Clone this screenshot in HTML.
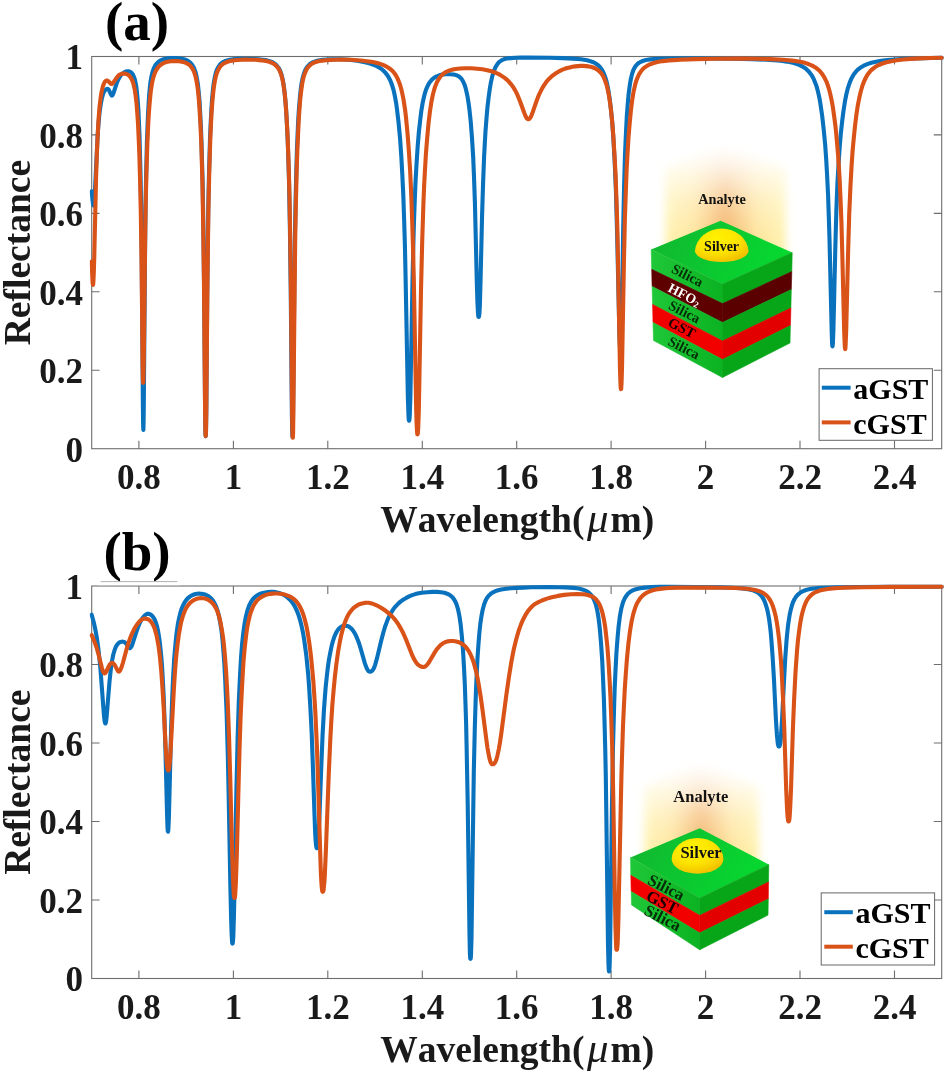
<!DOCTYPE html>
<html><head><meta charset="utf-8"><title>Reflectance spectra</title>
<style>
html,body{margin:0;padding:0;background:#fff;}
body{width:944px;height:1072px;overflow:hidden;}
svg{display:block;}
text{font-family:"Liberation Serif","DejaVu Serif",serif;font-weight:bold;fill:#1a1a1a;font-kerning:none;}
.tk{font-size:35px;}
.ax{font-size:37.5px;}
.pl{font-size:55px;fill:#000;}
.lg{font-size:30px;fill:#000;}
.axis{stroke:#6e6e6e;stroke-width:1.1;fill:none;}
.cv{fill:none;stroke-width:4.1;stroke-linejoin:round;stroke-linecap:round;}
</style></head><body>
<svg width="944" height="1072" viewBox="0 0 944 1072">
<defs>
<clipPath id="clipA"><rect x="89.5" y="50" width="860" height="400"/></clipPath>
<clipPath id="clipB"><rect x="89.5" y="580" width="860" height="400"/></clipPath>
<filter id="blur4" x="-50%" y="-50%" width="200%" height="200%"><feGaussianBlur stdDeviation="4.5"/></filter>
</defs>
<rect width="944" height="1072" fill="#fff"/>

<!-- ================= PANEL A ================= -->
<g id="panelA">
<rect class="axis" x="91.7" y="56.5" width="850.0" height="392.2"/>
<path class="axis" d="M138.9 448.7v-7.9M138.9 56.5v7.9M233.4 448.7v-7.9M233.4 56.5v7.9M327.8 448.7v-7.9M327.8 56.5v7.9M422.3 448.7v-7.9M422.3 56.5v7.9M516.7 448.7v-7.9M516.7 56.5v7.9M611.1 448.7v-7.9M611.1 56.5v7.9M705.6 448.7v-7.9M705.6 56.5v7.9M800.0 448.7v-7.9M800.0 56.5v7.9M894.5 448.7v-7.9M894.5 56.5v7.9M91.7 370.3h7.9M941.7 370.3h-7.9M91.7 291.8h7.9M941.7 291.8h-7.9M91.7 213.4h7.9M941.7 213.4h-7.9M91.7 134.9h7.9M941.7 134.9h-7.9"/>
<text class="tk" x="138.9" y="489" text-anchor="middle">0.8</text>
<text class="tk" x="233.4" y="489" text-anchor="middle">1</text>
<text class="tk" x="327.8" y="489" text-anchor="middle">1.2</text>
<text class="tk" x="422.3" y="489" text-anchor="middle">1.4</text>
<text class="tk" x="516.7" y="489" text-anchor="middle">1.6</text>
<text class="tk" x="611.1" y="489" text-anchor="middle">1.8</text>
<text class="tk" x="705.6" y="489" text-anchor="middle">2</text>
<text class="tk" x="800.0" y="489" text-anchor="middle">2.2</text>
<text class="tk" x="894.5" y="489" text-anchor="middle">2.4</text>
<text class="tk" x="83" y="461.5" text-anchor="end">0</text>
<text class="tk" x="83" y="383.1" text-anchor="end">0.2</text>
<text class="tk" x="83" y="304.6" text-anchor="end">0.4</text>
<text class="tk" x="83" y="226.2" text-anchor="end">0.6</text>
<text class="tk" x="83" y="147.7" text-anchor="end">0.8</text>
<text class="tk" x="83" y="69.3" text-anchor="end">1</text>
<text class="ax" transform="translate(30.3 252.6) rotate(-90)" text-anchor="middle">Reflectance</text>
<text class="ax" x="517.3" y="532.3" text-anchor="middle">Wavelength(<tspan font-style="italic" font-weight="normal" font-size="43" dx="2.5">μ</tspan><tspan dx="2">m)</tspan></text>
<text class="pl" x="137" y="40.3" text-anchor="middle">(a)</text>
<defs><linearGradient id="ghA" x1="665" x2="786" y1="0" y2="0" gradientUnits="userSpaceOnUse"><stop offset="0" stop-color="#fff4b2"/><stop offset="0.25" stop-color="#fee49c"/><stop offset="0.5" stop-color="#f4b266"/><stop offset="0.75" stop-color="#fee49c"/><stop offset="1" stop-color="#fff4b2"/></linearGradient><linearGradient id="gvA" x1="0" x2="0" y1="146" y2="262" gradientUnits="userSpaceOnUse"><stop offset="0" stop-color="#fff" stop-opacity="1"/><stop offset="0.15" stop-color="#fff" stop-opacity="0.85"/><stop offset="0.5" stop-color="#fff" stop-opacity="0.3"/><stop offset="0.8" stop-color="#fff" stop-opacity="0"/></linearGradient><radialGradient id="dmA" cx="0.4" cy="0.3" r="0.75"><stop offset="0" stop-color="#fff200"/><stop offset="0.55" stop-color="#fde400"/><stop offset="1" stop-color="#f0bd00"/></radialGradient><linearGradient id="tfA" x1="651.2" x2="792.2" y1="220.7" y2="284.0" gradientUnits="userSpaceOnUse"><stop offset="0" stop-color="#12b630"/><stop offset="1" stop-color="#04dd30"/></linearGradient><linearGradient id="lfA" x1="651.2" x2="722.5" y1="0" y2="0" gradientUnits="userSpaceOnUse"><stop offset="0" stop-color="#1fc838"/><stop offset="1" stop-color="#0bb222"/></linearGradient></defs>
<g filter="url(#blur4)"><polygon points="665,168 721.6,146 786,168 786,262 665,262" fill="url(#ghA)"/><rect x="645" y="126" width="161" height="136" fill="url(#gvA)"/></g>
<polygon points="720.6,220.7 792.2,252.6 722.5,284.0 651.2,249.5" fill="url(#tfA)"/>
<polygon points="651.2,249.5 722.5,284.0 722.5,303.6 651.7,269.3" fill="url(#lfA)" stroke="url(#lfA)" stroke-width="0.6" stroke-linejoin="round"/>
<polygon points="722.5,284.0 792.2,252.6 791.8,271.6 722.5,303.6" fill="#07a618" stroke="#07a618" stroke-width="0.6" stroke-linejoin="round"/>
<polygon points="651.7,269.3 722.5,303.6 722.5,322.4 652.1,286.4" fill="#5e0000" stroke="#5e0000" stroke-width="0.6" stroke-linejoin="round"/>
<polygon points="722.5,303.6 791.8,271.6 791.3,289.6 722.5,322.4" fill="#5a0000" stroke="#5a0000" stroke-width="0.6" stroke-linejoin="round"/>
<polygon points="652.1,286.4 722.5,322.4 722.5,341 652.6,304.4" fill="url(#lfA)" stroke="url(#lfA)" stroke-width="0.6" stroke-linejoin="round"/>
<polygon points="722.5,322.4 791.3,289.6 790.9,307.9 722.5,341" fill="#07a618" stroke="#07a618" stroke-width="0.6" stroke-linejoin="round"/>
<polygon points="652.6,304.4 722.5,341 722.5,359.5 653.0,322.5" fill="#f20000" stroke="#f20000" stroke-width="0.6" stroke-linejoin="round"/>
<polygon points="722.5,341 790.9,307.9 790.4,325.6 722.5,359.5" fill="#e20000" stroke="#e20000" stroke-width="0.6" stroke-linejoin="round"/>
<polygon points="653.0,322.5 722.5,359.5 722.5,377.5 653.5,340.5" fill="url(#lfA)" stroke="url(#lfA)" stroke-width="0.6" stroke-linejoin="round"/>
<polygon points="722.5,359.5 790.4,325.6 790.0,343 722.5,377.5" fill="#07a618" stroke="#07a618" stroke-width="0.6" stroke-linejoin="round"/>
<path d="M694.9 251.3A26.9 24.3 0 0 1 748.6 251.3A26.9 11.4 0 0 1 694.9 251.3Z" fill="url(#dmA)"/>
<text x="721.6" y="251.4" font-size="14" text-anchor="middle" style="fill:#111">Silver</text>
<text x="722" y="204" font-size="14.3" text-anchor="middle" style="fill:#111">Analyte</text>
<text transform="translate(670.5 272.0) rotate(27)" font-size="14.3" style="fill:#062b06">Silica</text>
<text transform="translate(667 291) rotate(27)" font-size="13.8" style="fill:#fff">HFO<tspan font-size="9" dy="2">2</tspan></text>
<text transform="translate(667.5 308.5) rotate(27)" font-size="14.3" style="fill:#062b06">Silica</text>
<text transform="translate(667 325.5) rotate(27)" font-size="14.3" style="fill:#1a0000">GST</text>
<text transform="translate(667 344.5) rotate(27)" font-size="14.3" style="fill:#062b06">Silica</text>
<g clip-path="url(#clipA)">
<polyline class="cv" stroke="#0a72bd" points="91.7,191.4 92.4,199.1 93.0,204.1 93.3,205.1 93.6,205.5 93.8,205.3 94.1,203.7 94.4,199.5 94.9,191.6 97.3,142.3 97.9,131.6 98.7,121.6 99.6,112.1 100.8,103.9 102.0,97.8 102.7,95.4 103.4,93.2 104.3,91.4 105.2,90.1 106.6,89.0 107.1,88.8 107.6,88.9 108.3,89.3 109.1,90.3 109.7,91.7 110.9,94.4 111.3,95.2 111.8,95.6 112.2,95.5 112.8,94.7 113.4,93.3 116.8,83.0 118.0,80.2 119.1,78.0 120.5,75.8 122.1,73.9 123.9,72.5 125.7,71.6 127.4,71.3 129.0,71.4 130.4,71.9 131.1,72.4 131.7,73.0 132.9,74.5 133.8,76.5 134.7,78.9 135.4,81.9 136.3,86.7 137.0,92.8 137.7,100.1 138.4,110.1 138.9,121.4 139.5,135.8 140.4,169.4 141.1,204.5 141.6,240.5 142.0,291.1 142.9,406.8 143.1,422.5 143.2,427.1 143.3,429.4 143.4,429.9 143.5,426.2 143.6,421.1 143.8,404.4 145.1,246.6 145.5,208.5 146.1,175.9 146.9,142.0 148.0,114.4 148.6,103.8 149.1,95.5 149.8,88.1 150.5,81.8 151.4,76.7 152.3,72.6 153.5,69.1 154.1,67.6 154.9,66.1 155.6,64.9 156.5,63.8 157.4,62.8 158.5,61.9 159.6,61.0 160.8,60.3 162.2,59.7 163.6,59.2 165.6,58.7 167.9,58.3 170.2,58.1 173.1,58.0 176.1,58.1 179.0,58.3 181.6,58.7 183.9,59.3 185.6,59.8 187.2,60.5 188.6,61.3 189.9,62.3 191.1,63.4 192.1,64.7 193.0,66.2 193.9,67.8 194.6,69.6 195.4,71.8 196.1,74.3 196.7,77.3 197.8,83.6 198.7,91.7 199.6,102.1 200.3,114.5 201.1,130.8 201.7,149.3 202.7,185.3 203.4,228.8 204.1,286.6 205.1,409.9 205.4,430.2 205.5,433.7 205.7,436.1 205.9,434.0 206.0,430.7 206.3,410.9 207.2,298.2 207.8,243.9 208.3,205.5 209.0,173.6 210.0,138.7 210.7,122.6 211.4,109.9 212.0,99.9 212.8,91.3 213.6,84.0 214.6,78.3 215.6,73.7 216.7,70.2 218.1,67.3 219.6,65.1 220.4,64.1 221.4,63.2 222.4,62.5 223.5,61.8 226.1,60.7 229.2,59.9 232.0,59.5 235.4,59.1 239.5,58.9 244.3,58.9 249.6,58.9 254.4,59.0 258.9,59.3 262.6,59.7 265.3,60.1 267.6,60.6 269.7,61.2 271.6,61.9 273.2,62.7 274.7,63.7 276.1,64.8 277.3,66.1 278.4,67.6 279.5,69.4 280.3,71.3 281.2,73.6 281.9,76.2 282.7,79.4 283.9,86.5 285.0,96.2 286.0,107.7 286.8,121.6 287.7,140.0 288.3,158.2 289.0,181.2 289.9,228.1 290.7,286.8 291.9,415.6 292.2,432.1 292.3,434.9 292.5,436.9 292.6,436.7 292.7,435.4 292.9,429.0 293.1,409.7 294.2,298.1 294.8,242.1 295.5,203.1 296.4,168.1 296.9,150.5 297.6,133.8 298.2,120.3 299.0,108.0 299.9,97.5 300.7,89.6 301.6,83.1 302.8,77.5 304.0,73.2 304.8,71.2 305.5,69.6 306.4,68.1 307.2,66.8 308.3,65.6 309.3,64.6 310.4,63.7 311.8,62.8 313.2,62.1 314.7,61.6 316.4,61.0 318.3,60.6 322.8,59.9 326.5,59.6 330.8,59.4 336.0,59.3 340.6,59.3 344.7,59.5 348.9,59.8 353.0,60.2 357.2,60.7 361.1,61.4 364.8,62.2 368.3,63.1 371.4,64.0 374.3,65.1 376.8,66.2 379.1,67.5 381.2,68.8 383.2,70.5 385.1,72.4 386.8,74.5 388.3,76.7 389.8,79.4 391.0,82.2 392.1,85.3 393.3,89.1 394.3,93.3 395.2,97.9 396.1,102.8 396.9,108.5 398.5,122.0 400.1,138.8 401.3,156.2 402.3,174.5 403.3,195.2 404.1,218.8 404.9,245.1 405.6,277.9 407.9,398.5 408.5,415.5 408.7,419.4 408.9,420.5 409.1,420.7 409.3,420.3 409.5,418.9 409.8,414.4 410.4,396.3 412.5,280.2 413.2,250.9 413.9,223.8 414.7,202.0 415.5,182.3 416.5,164.6 417.6,147.4 418.9,131.5 420.5,117.4 421.2,111.7 422.1,106.2 422.9,101.6 423.9,97.2 424.8,93.6 425.8,90.3 427.0,87.4 428.2,84.8 429.5,82.6 431.0,80.7 432.6,79.0 434.4,77.6 436.8,76.3 439.3,75.3 442.2,74.6 445.3,74.2 449.7,74.2 453.3,74.5 456.0,75.1 457.2,75.5 458.2,76.0 459.8,77.2 461.3,78.6 462.5,80.4 463.6,82.5 464.7,85.1 465.7,88.4 466.6,92.2 467.5,96.4 468.3,101.4 469.2,107.5 469.9,113.9 470.7,121.4 472.0,138.1 473.2,157.5 474.0,176.9 474.9,202.1 476.8,281.8 477.4,301.4 478.0,313.2 478.3,315.9 478.4,316.7 478.6,316.9 478.8,316.9 479.0,316.4 479.3,314.5 479.6,310.5 479.9,304.3 480.5,282.2 482.1,214.7 483.0,185.6 484.1,156.6 484.8,143.5 485.5,131.1 486.5,118.3 487.4,107.8 488.6,97.6 489.7,89.4 490.9,82.4 492.3,76.1 493.8,71.2 495.4,67.4 496.5,65.5 497.6,63.8 498.8,62.4 500.1,61.3 501.5,60.3 503.0,59.6 504.7,59.0 506.6,58.5 510.7,58.1 516.0,57.7 520.3,57.6 527.0,57.6 549.8,57.8 562.9,58.1 573.3,58.6 581.0,59.3 584.2,59.8 587.1,60.3 589.5,60.9 591.8,61.7 593.9,62.5 595.7,63.5 597.3,64.6 598.8,65.9 600.2,67.4 601.4,69.0 602.5,70.8 603.6,72.9 604.5,75.2 605.4,77.6 606.2,80.4 607.0,83.4 608.4,90.4 609.8,99.7 611.0,110.0 612.2,122.1 613.2,135.8 614.6,160.4 615.9,190.6 617.1,233.5 619.3,329.6 619.6,340.5 619.9,346.0 620.3,349.8 620.5,350.5 620.7,350.6 620.9,350.4 621.0,349.8 621.2,347.4 621.6,331.8 623.2,228.4 624.1,186.3 625.0,154.2 626.1,129.8 626.8,116.5 627.7,104.6 628.6,94.3 629.7,85.9 630.8,79.2 632.0,74.1 632.7,72.0 633.4,70.0 634.3,68.2 635.1,66.8 636.3,65.2 637.6,63.9 639.1,62.7 640.8,61.8 642.7,61.0 645.0,60.3 647.5,59.8 650.4,59.4 657.8,58.9 668.3,58.5 684.3,58.4 707.9,58.5 732.5,58.7 751.8,59.1 766.4,59.7 777.7,60.5 782.5,61.0 786.7,61.6 790.5,62.3 793.9,63.1 796.9,64.1 799.7,65.1 802.1,66.3 804.4,67.7 806.4,69.2 808.2,70.9 809.9,72.9 811.5,75.0 812.9,77.4 814.1,79.9 815.3,82.9 816.5,86.1 817.5,89.7 818.5,93.9 819.5,98.5 820.4,103.7 822.1,115.3 823.7,129.4 825.1,143.9 826.2,159.3 827.2,177.0 828.1,195.5 828.8,216.3 829.5,239.0 831.7,331.7 832.1,343.5 832.3,345.7 832.5,346.3 832.7,345.3 832.9,342.7 833.4,330.2 835.3,248.3 836.3,212.1 837.4,183.7 838.8,160.0 839.8,145.7 840.9,132.8 842.2,121.1 843.5,110.7 844.9,101.7 846.3,94.5 847.9,88.1 849.7,82.6 851.4,78.6 853.3,75.2 854.3,73.7 855.5,72.2 857.8,69.7 859.2,68.6 860.6,67.5 863.7,65.7 867.3,64.1 871.3,62.8 876.0,61.7 881.3,60.8 887.5,60.1 894.8,59.5 903.4,58.9 913.6,58.5 941.7,57.7"/>
<polyline class="cv" stroke="#d95319" points="91.7,261.5 92.2,274.7 92.6,282.8 92.8,284.3 93.0,284.8 93.2,283.8 93.4,281.4 93.8,272.4 94.2,259.3 96.1,176.5 96.8,155.6 97.5,139.1 98.4,121.5 99.4,108.1 100.6,98.1 101.2,93.8 102.0,90.0 102.8,86.6 103.7,84.2 104.7,82.0 105.0,81.6 105.6,81.0 106.1,80.7 106.5,80.6 107.0,80.5 107.6,80.7 108.6,81.5 110.7,83.7 111.3,84.0 111.9,83.9 112.6,83.5 113.3,82.6 116.2,78.3 117.7,76.4 118.5,75.5 119.5,74.8 120.4,74.3 121.4,73.9 123.0,73.6 124.7,73.6 126.3,74.0 127.8,74.7 129.1,75.7 130.2,76.9 131.3,78.5 132.2,80.4 132.9,82.1 133.5,84.3 134.7,89.3 135.6,95.4 136.5,102.9 137.2,111.9 138.0,123.6 138.6,136.5 139.3,152.8 140.1,181.0 140.8,212.4 141.5,258.2 142.6,362.4 142.9,377.8 143.1,382.2 143.2,382.8 143.3,382.7 143.5,376.3 143.8,359.4 144.8,270.6 145.3,226.7 145.9,194.7 146.5,171.1 147.4,142.5 148.0,129.5 148.6,117.1 149.3,107.2 150.0,99.2 150.7,92.0 151.5,86.5 152.3,81.7 153.4,77.3 154.6,73.6 155.9,70.6 157.5,68.1 159.3,66.0 160.4,65.1 161.5,64.3 163.9,62.9 165.6,62.3 167.3,61.8 169.2,61.4 171.1,61.2 173.9,61.1 176.6,61.1 179.2,61.3 181.6,61.7 183.4,62.1 185.1,62.6 186.6,63.2 187.9,64.0 189.2,64.8 190.3,65.8 191.2,66.9 192.2,68.2 193.1,69.9 194.0,71.7 194.7,73.8 195.5,76.3 196.7,82.0 197.9,89.7 198.9,100.0 199.7,111.9 200.5,125.8 201.3,143.9 201.8,160.9 202.4,182.0 203.2,226.0 204.0,287.2 205.1,412.9 205.4,430.9 205.5,434.0 205.7,436.1 205.9,434.3 206.0,431.4 206.3,413.8 207.3,298.0 207.9,246.7 208.4,209.7 209.2,174.8 210.3,139.2 210.9,126.0 211.5,113.5 212.3,102.4 213.1,93.9 213.9,86.7 214.9,80.8 215.8,76.5 216.9,72.8 218.3,69.7 219.8,67.1 220.6,66.1 221.6,65.1 222.6,64.2 223.6,63.5 226.1,62.3 229.1,61.3 231.7,60.7 234.6,60.3 238.0,60.0 241.8,59.8 246.2,59.6 250.8,59.7 255.3,59.8 259.2,60.1 264.8,60.7 267.2,61.2 269.3,61.8 271.1,62.5 272.7,63.2 274.3,64.1 275.6,65.2 276.9,66.5 278.1,68.1 279.3,70.0 280.2,72.1 281.1,74.3 281.9,77.2 282.7,80.4 283.3,83.8 284.6,92.5 285.6,103.1 286.5,116.4 287.5,134.3 288.2,153.0 288.9,173.6 289.5,195.9 290.0,224.7 290.9,287.6 292.1,413.2 292.4,430.9 292.6,436.5 292.7,437.5 292.8,437.7 293.0,435.6 293.1,432.8 293.4,409.5 294.6,292.2 295.2,239.6 295.9,202.6 296.7,168.9 297.4,149.3 298.1,133.4 298.8,118.8 299.6,107.3 300.4,97.4 301.3,89.9 302.3,83.1 303.4,77.8 304.7,73.7 306.1,70.4 306.9,68.8 307.8,67.6 308.7,66.4 309.8,65.4 310.9,64.4 312.1,63.6 313.5,62.9 314.9,62.3 318.3,61.3 322.4,60.6 326.0,60.2 330.2,59.9 335.2,59.7 340.4,59.6 350.7,59.8 360.8,60.5 369.1,61.5 372.8,62.1 376.1,62.8 379.0,63.6 381.7,64.4 384.2,65.4 386.4,66.5 388.7,67.9 390.9,69.5 392.8,71.3 394.6,73.5 396.2,75.9 397.6,78.6 398.9,81.7 400.2,85.2 401.3,89.2 402.3,93.6 403.4,98.8 404.3,104.6 405.2,110.6 406.0,117.6 407.6,134.1 408.9,151.5 410.2,171.8 411.2,193.5 412.1,218.5 413.0,247.2 413.8,279.1 416.2,409.8 416.6,423.0 416.9,429.6 417.2,433.2 417.3,434.2 417.5,434.4 417.7,434.0 417.9,432.6 418.2,428.3 418.8,410.9 421.0,289.8 422.2,241.5 423.4,204.0 424.1,186.3 424.9,171.3 425.9,154.2 427.2,137.8 428.5,123.6 429.9,111.7 431.4,101.9 433.0,94.0 433.9,90.7 434.8,87.6 435.9,84.7 436.9,82.3 438.4,79.5 440.1,77.0 441.9,75.0 444.0,73.3 446.3,71.8 449.0,70.6 451.9,69.7 455.3,69.0 459.9,68.5 465.3,68.2 471.3,68.3 477.1,68.7 482.4,69.3 487.2,70.2 491.6,71.3 495.5,72.7 498.1,73.8 500.5,75.1 502.8,76.6 505.0,78.1 507.1,79.9 509.0,81.8 510.7,83.8 512.4,86.0 513.9,88.2 515.3,90.6 516.6,93.1 517.9,96.0 520.2,101.7 524.2,112.8 525.6,116.2 526.3,117.6 527.1,118.6 527.8,119.1 528.5,119.2 529.2,119.0 529.9,118.2 530.7,117.1 531.5,115.3 532.9,111.7 536.2,102.0 537.9,97.4 539.9,92.8 541.9,88.8 544.1,85.1 546.5,81.7 549.2,78.7 552.0,76.1 553.9,74.6 555.9,73.2 558.0,71.9 560.1,70.8 562.4,69.7 564.8,68.8 567.2,68.0 569.7,67.4 572.4,66.8 575.2,66.4 578.0,66.1 580.7,65.9 583.5,65.9 586.0,66.1 588.4,66.4 590.6,66.8 593.1,67.5 595.4,68.5 597.4,69.7 599.1,71.1 600.8,72.8 602.3,74.8 603.6,77.1 604.8,79.8 605.9,83.0 607.0,86.5 607.9,90.5 608.9,95.3 609.7,100.5 610.5,106.0 612.0,119.8 613.3,135.7 614.5,154.8 615.6,175.7 616.5,200.6 617.3,226.6 617.9,255.5 620.0,369.7 620.5,384.5 620.7,387.5 620.8,388.4 621.0,389.1 621.1,389.0 621.2,388.8 621.2,388.2 621.5,383.9 622.0,368.5 623.9,263.4 624.9,218.3 626.1,183.8 626.7,168.5 627.5,153.9 628.5,137.4 629.7,123.0 630.9,110.5 632.1,100.7 633.5,92.1 635.0,85.2 635.9,82.2 636.8,79.4 637.8,77.0 638.8,74.8 639.8,73.1 640.8,71.6 641.9,70.1 643.2,68.8 644.5,67.6 645.9,66.6 647.4,65.6 649.1,64.7 650.9,64.0 652.9,63.3 657.3,62.1 662.7,61.1 669.3,60.4 680.7,59.6 695.6,59.1 715.1,58.7 737.2,58.6 755.5,58.8 770.6,59.1 782.5,59.7 792.1,60.6 797.2,61.3 801.6,62.1 805.6,63.1 809.1,64.3 812.2,65.6 815.0,67.2 817.5,69.0 819.8,71.1 821.8,73.5 823.6,76.1 825.3,79.3 826.9,82.7 828.3,86.7 829.6,91.3 830.8,96.4 832.0,102.1 833.1,108.7 834.2,116.6 835.3,124.9 836.3,134.6 837.2,144.7 838.1,155.3 838.8,166.1 839.6,178.9 840.5,198.7 841.4,221.6 842.3,254.3 844.2,331.8 844.7,344.3 845.0,348.2 845.2,349.1 845.4,348.5 845.6,345.1 846.2,330.1 848.1,252.3 849.2,214.6 850.4,187.1 851.6,165.3 852.6,150.9 853.8,137.9 855.0,126.1 856.3,115.4 857.7,106.0 859.2,98.3 860.7,91.7 862.4,85.8 864.1,81.3 865.9,77.5 867.8,74.2 870.1,71.4 871.3,70.1 872.7,68.9 875.5,66.8 878.7,65.0 882.4,63.5 886.5,62.2 891.3,61.2 896.7,60.3 903.2,59.5 910.6,58.9 919.3,58.4 929.6,58.0 941.7,57.7"/>
</g>
<rect x="819.1" y="368.7" width="113.3" height="71.6" fill="#fff" stroke="#666" stroke-width="1"/>
<path d="M821.8 387.7H850.6" stroke="#0a72bd" stroke-width="4"/>
<path d="M821.8 422.4H850.6" stroke="#d95319" stroke-width="4"/>
<text class="lg" x="853.3" y="398.8">aGST</text>
<text class="lg" x="853.3" y="434.0">cGST</text>
</g>

<!-- ================= PANEL B ================= -->
<g id="panelB">
<rect class="axis" x="91.7" y="586.0" width="850.0" height="392.5"/>
<path class="axis" d="M138.9 978.5v-7.9M138.9 586.0v7.9M233.4 978.5v-7.9M233.4 586.0v7.9M327.8 978.5v-7.9M327.8 586.0v7.9M422.3 978.5v-7.9M422.3 586.0v7.9M516.7 978.5v-7.9M516.7 586.0v7.9M611.1 978.5v-7.9M611.1 586.0v7.9M705.6 978.5v-7.9M705.6 586.0v7.9M800.0 978.5v-7.9M800.0 586.0v7.9M894.5 978.5v-7.9M894.5 586.0v7.9M91.7 900.0h7.9M941.7 900.0h-7.9M91.7 821.5h7.9M941.7 821.5h-7.9M91.7 743.0h7.9M941.7 743.0h-7.9M91.7 664.5h7.9M941.7 664.5h-7.9"/>
<text class="tk" x="138.9" y="1018.6" text-anchor="middle">0.8</text>
<text class="tk" x="233.4" y="1018.6" text-anchor="middle">1</text>
<text class="tk" x="327.8" y="1018.6" text-anchor="middle">1.2</text>
<text class="tk" x="422.3" y="1018.6" text-anchor="middle">1.4</text>
<text class="tk" x="516.7" y="1018.6" text-anchor="middle">1.6</text>
<text class="tk" x="611.1" y="1018.6" text-anchor="middle">1.8</text>
<text class="tk" x="705.6" y="1018.6" text-anchor="middle">2</text>
<text class="tk" x="800.0" y="1018.6" text-anchor="middle">2.2</text>
<text class="tk" x="894.5" y="1018.6" text-anchor="middle">2.4</text>
<text class="tk" x="83" y="991.3" text-anchor="end">0</text>
<text class="tk" x="83" y="912.8" text-anchor="end">0.2</text>
<text class="tk" x="83" y="834.3" text-anchor="end">0.4</text>
<text class="tk" x="83" y="755.8" text-anchor="end">0.6</text>
<text class="tk" x="83" y="677.3" text-anchor="end">0.8</text>
<text class="tk" x="83" y="598.8" text-anchor="end">1</text>
<text class="ax" transform="translate(30.3 782.2) rotate(-90)" text-anchor="middle">Reflectance</text>
<text class="ax" x="517.3" y="1062" text-anchor="middle">Wavelength(<tspan font-style="italic" font-weight="normal" font-size="43" dx="2.5">μ</tspan><tspan dx="2">m)</tspan></text>
<text class="pl" x="137" y="569.7" text-anchor="middle">(b)</text>
<rect x="98" y="582" width="82" height="3.2" fill="#fff"/>
<path d="M100.6 581.6H177.4" stroke="#a9a9a9" stroke-width="0.9" fill="none"/>
<defs><linearGradient id="ghB" x1="644" x2="759" y1="0" y2="0" gradientUnits="userSpaceOnUse"><stop offset="0" stop-color="#fff4b2"/><stop offset="0.25" stop-color="#fee49c"/><stop offset="0.5" stop-color="#f4b266"/><stop offset="0.75" stop-color="#fee49c"/><stop offset="1" stop-color="#fff4b2"/></linearGradient><linearGradient id="gvB" x1="0" x2="0" y1="764" y2="872" gradientUnits="userSpaceOnUse"><stop offset="0" stop-color="#fff" stop-opacity="1"/><stop offset="0.15" stop-color="#fff" stop-opacity="0.85"/><stop offset="0.5" stop-color="#fff" stop-opacity="0.3"/><stop offset="0.8" stop-color="#fff" stop-opacity="0"/></linearGradient><radialGradient id="dmB" cx="0.4" cy="0.3" r="0.75"><stop offset="0" stop-color="#fff200"/><stop offset="0.55" stop-color="#fde400"/><stop offset="1" stop-color="#f0bd00"/></radialGradient><linearGradient id="tfB" x1="630.5" x2="768.8" y1="828.3" y2="898.1" gradientUnits="userSpaceOnUse"><stop offset="0" stop-color="#12b630"/><stop offset="1" stop-color="#04dd30"/></linearGradient><linearGradient id="lfB" x1="630.5" x2="699.7" y1="0" y2="0" gradientUnits="userSpaceOnUse"><stop offset="0" stop-color="#1fc838"/><stop offset="1" stop-color="#0bb222"/></linearGradient></defs>
<g filter="url(#blur4)"><polygon points="644,786 700,764 759,786 759,872 644,872" fill="url(#ghB)"/><rect x="624" y="744" width="155" height="128" fill="url(#gvB)"/></g>
<polygon points="699.7,828.3 768.8,864.6 699.7,898.1 630.5,857.5" fill="url(#tfB)"/>
<polygon points="630.5,857.5 699.7,898.1 699.7,915.4 630.8,875.3" fill="url(#lfB)" stroke="url(#lfB)" stroke-width="0.6" stroke-linejoin="round"/>
<polygon points="699.7,898.1 768.8,864.6 768.5,882 699.7,915.4" fill="#07a618" stroke="#07a618" stroke-width="0.6" stroke-linejoin="round"/>
<polygon points="630.8,875.3 699.7,915.4 699.7,932.9 631.2,891.4" fill="#f20000" stroke="#f20000" stroke-width="0.6" stroke-linejoin="round"/>
<polygon points="699.7,915.4 768.5,882 768.3,899 699.7,932.9" fill="#e20000" stroke="#e20000" stroke-width="0.6" stroke-linejoin="round"/>
<polygon points="631.2,891.4 699.7,932.9 699.7,949.8 631.5,904.9" fill="url(#lfB)" stroke="url(#lfB)" stroke-width="0.6" stroke-linejoin="round"/>
<polygon points="699.7,932.9 768.3,899 768.0,915.1 699.7,949.8" fill="#07a618" stroke="#07a618" stroke-width="0.6" stroke-linejoin="round"/>
<path d="M671.7 859.2A25.8 21.2 0 0 1 723.4 859.2A25.8 14.4 0 0 1 671.7 859.2Z" fill="url(#dmB)"/>
<text x="701" y="858.3" font-size="16.5" text-anchor="middle" style="fill:#111">Silver</text>
<text x="700.8" y="802.3" font-size="16.5" text-anchor="middle" style="fill:#111">Analyte</text>
<text transform="translate(646.5 883.5) rotate(27)" font-size="16.6" style="fill:#062b06">Silica</text>
<text transform="translate(645 899.5) rotate(27)" font-size="16.6" style="fill:#1a0000">GST</text>
<text transform="translate(643 914) rotate(27)" font-size="16.6" style="fill:#062b06">Silica</text>
<g clip-path="url(#clipB)">
<polyline class="cv" stroke="#0a72bd" points="91.7,614.7 93.8,622.5 95.5,630.3 97.0,638.9 98.3,648.3 99.4,658.4 100.5,669.6 103.9,714.7 104.6,721.1 105.0,722.8 105.2,723.3 105.4,723.4 105.7,723.0 106.1,721.4 106.7,716.1 109.5,681.6 110.4,673.1 111.2,666.1 112.3,659.5 113.3,654.5 114.6,650.2 115.2,648.4 116.0,646.7 116.6,645.5 117.4,644.4 118.1,643.5 119.0,642.7 119.7,642.3 120.6,641.9 121.6,641.7 122.7,641.6 123.4,641.8 124.2,642.0 124.8,642.4 125.5,643.0 126.5,644.2 128.4,647.0 129.2,647.9 129.6,648.1 129.9,648.2 130.2,648.1 130.5,647.8 131.5,646.4 132.5,643.9 137.0,629.9 138.4,626.3 139.7,623.2 141.2,620.2 142.8,617.7 144.4,615.8 145.9,614.5 147.2,613.9 148.5,613.8 150.0,614.3 151.4,615.1 152.6,616.3 153.7,617.9 154.8,619.8 155.8,622.4 156.9,625.8 157.9,630.2 158.8,635.4 159.7,641.4 160.5,648.7 161.3,656.8 162.0,665.4 162.6,675.7 163.6,694.3 164.4,716.3 165.3,744.5 167.1,815.4 167.5,827.5 167.8,831.1 168.0,831.7 168.2,830.9 168.4,828.6 168.9,817.4 171.2,725.7 172.2,698.1 173.1,677.3 174.3,657.2 175.7,641.5 176.4,634.6 177.2,628.8 178.0,623.4 179.0,618.5 180.2,613.4 181.5,609.1 183.0,605.4 184.7,602.3 185.7,600.8 186.7,599.5 187.7,598.4 188.9,597.4 190.1,596.4 191.3,595.7 192.7,595.0 194.0,594.5 195.6,594.0 197.2,593.7 198.9,593.6 200.6,593.7 202.4,593.9 204.1,594.3 205.7,594.8 207.2,595.5 208.5,596.3 209.8,597.2 210.9,598.2 212.0,599.4 213.1,600.8 214.0,602.3 214.9,604.0 215.8,605.8 216.6,608.0 217.5,610.5 219.0,616.3 220.3,623.2 221.5,630.9 222.6,641.1 223.5,652.1 224.4,664.5 225.2,680.0 226.6,712.3 227.8,754.6 228.6,792.4 230.4,887.8 231.2,921.5 231.6,933.1 231.9,938.9 232.1,942.3 232.3,943.3 232.5,943.6 232.7,943.2 232.9,942.1 233.3,936.6 233.9,916.6 234.6,886.1 236.4,790.8 237.7,735.5 238.8,701.0 240.2,672.0 241.1,656.8 242.1,643.7 243.3,632.9 244.5,624.0 245.9,616.4 247.4,610.6 248.3,608.0 249.2,605.5 250.3,603.3 251.4,601.3 252.5,599.7 253.7,598.3 254.9,597.1 256.3,596.0 257.8,595.0 259.4,594.2 261.1,593.5 263.0,592.9 265.4,592.4 267.8,592.0 270.5,591.9 273.2,591.9 275.1,592.0 277.1,592.4 279.1,592.9 281.0,593.6 282.7,594.3 284.4,595.3 286.0,596.3 287.5,597.4 288.9,598.7 290.3,600.1 291.5,601.5 292.8,603.2 293.9,604.9 295.0,606.8 297.0,611.0 298.8,615.8 300.4,621.2 301.7,626.6 303.0,632.7 304.1,639.3 305.2,647.1 306.3,655.4 307.3,665.2 308.2,674.5 309.0,685.3 310.4,707.8 311.7,733.5 312.7,760.8 314.5,814.7 315.2,833.3 315.7,841.4 316.1,845.5 316.5,847.6 316.7,848.0 316.9,848.2 317.2,848.0 317.4,847.5 317.8,845.4 318.2,841.6 318.6,834.3 319.4,817.6 321.4,763.5 322.6,734.7 324.0,709.2 324.8,698.3 325.6,688.0 326.7,677.4 327.7,668.6 328.9,659.9 330.2,652.8 331.6,646.1 333.0,640.8 334.5,636.3 335.4,634.3 336.2,632.6 337.8,630.0 338.7,628.9 339.6,628.0 340.6,627.2 341.5,626.6 342.5,626.1 343.6,625.8 344.6,625.7 345.8,625.7 346.9,625.9 347.9,626.2 349.0,626.7 350.0,627.4 351.0,628.3 352.0,629.3 353.5,631.2 355.0,633.7 356.4,636.6 357.8,640.0 359.1,643.5 360.3,647.3 364.8,663.1 365.8,665.9 366.6,668.0 367.7,670.0 368.6,671.2 369.1,671.5 369.6,671.7 370.2,671.7 370.8,671.6 371.4,671.3 372.0,670.9 373.0,669.7 374.1,667.7 375.2,664.6 377.1,657.9 381.0,641.5 383.0,633.8 385.1,626.5 387.3,620.6 388.4,617.9 389.7,615.4 391.0,612.9 392.3,610.8 393.7,608.7 395.2,606.8 396.8,605.1 398.5,603.4 400.8,601.4 403.5,599.5 406.2,597.9 409.1,596.4 412.1,595.1 415.4,594.1 418.6,593.3 421.9,592.7 427.2,592.2 432.4,591.9 437.0,591.9 441.0,592.3 444.4,592.8 447.1,593.7 449.5,594.9 450.5,595.6 451.5,596.4 452.9,597.8 454.1,599.5 455.2,601.4 456.2,603.5 457.0,605.9 457.9,608.8 458.6,612.0 459.4,615.9 460.7,624.9 461.9,636.7 463.0,650.1 464.0,667.7 464.8,683.9 465.4,701.2 466.1,722.7 466.6,745.6 467.7,803.1 469.5,935.2 469.9,953.7 470.2,958.1 470.3,958.6 470.5,958.9 470.7,958.5 470.8,957.8 471.0,955.0 471.5,938.4 471.9,908.6 473.2,813.6 473.8,772.1 474.8,728.3 475.9,692.2 476.7,674.3 477.5,658.1 478.4,645.1 479.3,633.6 480.3,623.9 481.4,616.5 482.6,610.1 483.3,607.4 484.0,604.8 485.4,601.0 486.3,599.3 487.1,597.8 488.1,596.5 489.0,595.4 490.1,594.4 491.3,593.4 492.6,592.5 494.0,591.8 495.5,591.1 497.2,590.5 501.2,589.5 506.2,588.7 511.0,588.3 516.7,587.9 523.5,587.6 531.3,587.3 550.3,587.1 558.5,587.2 565.3,587.4 573.6,587.9 576.9,588.3 579.7,588.8 582.1,589.4 584.3,590.1 586.3,591.0 588.0,592.0 589.6,593.3 591.0,594.8 592.3,596.6 593.5,598.6 594.5,600.9 595.5,603.5 596.3,606.4 597.2,610.1 597.9,614.1 598.6,618.4 599.9,629.5 601.1,644.0 602.2,660.4 603.0,677.5 603.9,699.2 604.5,720.5 605.2,747.3 605.8,776.4 606.3,812.5 608.0,943.9 608.5,964.7 608.8,970.1 608.9,970.9 609.1,971.4 609.3,971.2 609.3,970.7 609.6,966.5 610.1,947.7 611.9,810.5 612.9,750.4 614.1,706.8 614.7,688.1 615.5,670.7 616.4,653.4 617.5,638.6 618.6,626.4 619.9,616.2 620.6,612.3 621.3,608.6 622.2,605.2 623.0,602.4 624.0,600.0 625.0,597.8 626.2,596.0 627.4,594.4 628.5,593.2 629.7,592.2 631.1,591.3 632.5,590.5 634.1,589.8 635.9,589.2 637.9,588.7 640.0,588.3 645.0,587.6 651.4,587.1 659.3,586.9 669.5,586.8 721.0,587.4 732.2,587.7 740.5,588.2 744.3,588.6 747.6,589.1 750.4,589.7 752.9,590.4 755.1,591.2 757.1,592.2 758.8,593.4 760.3,594.7 762.0,596.7 763.5,599.1 764.8,601.9 766.0,605.3 767.2,609.4 768.1,613.7 769.1,619.2 769.9,625.3 770.7,632.0 771.4,640.1 772.7,658.2 773.9,678.0 775.9,719.4 776.9,734.5 777.5,740.8 777.9,744.2 778.4,746.0 778.7,746.4 779.1,746.5 779.3,746.4 779.6,745.9 779.9,744.9 780.2,743.4 780.7,739.6 781.1,734.0 782.0,720.4 784.2,677.3 785.3,657.6 786.6,639.6 787.3,632.5 788.0,625.8 788.9,619.5 789.8,614.0 790.8,609.6 791.9,605.5 793.1,602.0 794.6,599.0 796.1,596.7 797.9,594.6 799.7,593.1 801.7,591.8 804.1,590.7 806.8,589.8 810.0,589.1 813.7,588.5 818.1,588.1 823.4,587.7 836.5,587.3 856.3,587.0 887.6,586.9 941.7,586.8"/>
<polyline class="cv" stroke="#d95319" points="91.7,635.1 94.2,640.9 96.4,647.0 98.4,653.9 102.0,668.3 102.9,671.2 103.8,672.8 104.2,673.2 104.6,673.4 105.1,673.2 105.6,672.7 106.4,671.4 108.6,666.7 109.6,664.8 110.2,664.0 110.8,663.4 111.3,663.0 111.9,662.9 112.4,662.9 112.9,663.1 113.5,663.6 114.1,664.2 115.2,665.9 117.7,670.6 118.3,671.3 118.7,671.6 119.0,671.6 119.6,671.2 120.3,670.1 121.0,668.7 121.7,666.6 123.0,662.5 127.1,647.3 128.7,642.3 130.3,637.8 131.9,633.9 133.5,630.5 135.2,627.3 137.0,624.5 139.0,622.0 141.0,620.1 141.9,619.5 142.9,619.0 143.8,618.7 144.7,618.6 145.8,618.6 146.9,618.9 148.0,619.2 149.0,619.8 150.0,620.6 150.8,621.5 151.7,622.6 152.5,623.9 153.7,626.2 154.8,629.1 155.8,632.6 156.8,636.5 157.7,641.3 158.6,646.5 159.3,652.1 160.1,658.6 161.4,672.9 162.6,690.2 163.7,708.0 165.6,745.9 166.5,759.4 167.0,764.8 167.3,767.9 167.8,770.0 168.0,770.3 168.3,770.5 168.6,770.2 168.8,769.8 169.2,767.5 169.7,763.4 170.2,757.4 171.0,743.1 173.9,688.7 175.0,671.4 176.1,657.5 177.5,644.7 178.9,634.2 180.5,625.3 181.3,621.6 182.3,618.0 183.5,614.2 184.9,610.7 186.4,607.7 188.1,605.1 190.0,602.9 192.0,601.2 194.3,599.8 196.6,598.8 197.9,598.5 199.4,598.2 200.8,598.1 202.1,598.2 203.6,598.3 205.0,598.6 206.4,599.0 207.7,599.6 209.9,600.9 212.0,602.6 213.9,604.9 215.6,607.6 216.6,609.5 217.5,611.7 219.1,616.6 220.5,622.3 221.8,629.3 223.1,637.7 224.1,646.8 225.1,658.3 226.1,671.3 226.8,683.9 227.6,699.0 229.0,735.3 230.2,776.8 232.2,855.2 233.0,879.4 233.4,888.1 233.7,894.0 234.1,897.2 234.3,897.9 234.5,898.0 234.7,897.9 234.8,897.6 235.0,896.7 235.3,892.8 235.7,886.1 236.1,876.8 236.9,851.6 238.6,783.8 239.5,749.9 240.6,716.6 241.8,690.7 243.1,667.9 243.8,657.7 244.6,649.0 245.5,640.8 246.4,633.3 247.3,627.2 248.4,621.6 249.7,616.0 251.1,611.4 252.7,607.4 254.4,604.1 255.4,602.7 256.4,601.3 257.5,600.0 258.7,599.0 259.9,598.0 261.2,597.1 262.6,596.3 264.1,595.6 265.9,594.9 268.0,594.3 270.2,593.9 272.6,593.6 275.0,593.5 277.5,593.5 279.8,593.7 282.2,594.0 284.4,594.5 286.4,595.1 288.3,595.8 290.1,596.6 291.8,597.6 293.3,598.7 294.8,599.9 296.2,601.3 297.7,603.2 299.0,605.1 300.3,607.5 301.6,610.1 302.7,612.9 303.7,615.9 304.8,619.5 305.7,623.2 306.7,627.4 307.6,632.3 309.3,642.9 310.9,655.6 312.3,669.6 313.4,682.0 314.3,695.4 315.2,709.6 316.0,726.4 316.9,746.4 317.7,770.1 320.1,849.3 320.8,871.2 321.3,881.2 321.8,887.8 322.2,891.1 322.4,891.6 322.7,891.8 323.0,891.6 323.3,891.1 323.6,889.9 323.8,887.9 324.3,882.9 324.8,875.5 325.9,850.1 328.7,775.4 330.2,741.7 331.2,722.9 332.3,705.7 333.5,691.4 334.8,677.5 336.4,663.7 338.1,651.7 340.0,641.0 341.0,636.1 342.1,631.8 343.1,628.0 344.2,624.3 345.4,621.1 346.6,618.2 347.9,615.5 349.2,613.2 350.7,611.2 352.2,609.4 353.8,607.8 355.6,606.4 357.5,605.2 359.5,604.2 361.9,603.5 364.5,602.9 366.5,602.7 368.6,602.8 370.8,603.2 373.0,603.9 375.4,604.8 378.0,606.0 380.6,607.5 383.4,609.3 386.3,611.3 389.1,613.6 390.7,615.0 392.3,616.5 395.2,619.9 398.0,623.7 400.6,628.1 402.5,631.7 404.4,635.8 406.6,640.9 412.1,654.9 413.8,658.6 415.4,661.3 416.8,663.4 418.2,664.9 419.7,665.9 421.7,666.8 423.0,667.1 424.2,666.9 425.5,666.3 426.7,665.2 427.7,664.0 429.0,662.2 434.6,652.6 436.1,650.3 437.6,648.3 439.4,646.3 441.2,644.6 443.1,643.3 445.0,642.3 447.6,641.4 450.3,641.0 453.2,641.0 456.3,641.5 459.0,642.3 461.4,643.5 463.7,645.1 465.8,647.1 467.4,649.1 468.9,651.4 470.3,654.0 471.6,657.0 472.9,660.2 474.1,663.9 475.2,668.0 476.4,672.6 477.5,677.9 478.5,683.3 480.6,696.1 482.5,709.7 486.4,740.0 487.4,747.3 488.3,752.5 489.4,758.1 490.4,761.7 490.9,762.8 491.5,763.7 492.0,764.2 492.6,764.3 493.6,764.0 494.4,763.4 495.2,762.3 495.9,760.7 496.7,758.6 497.3,756.2 498.8,749.1 500.0,742.4 501.3,733.4 506.4,694.4 508.9,677.1 511.5,661.1 512.8,654.2 514.1,647.9 515.5,642.3 516.8,637.2 518.2,632.4 519.6,628.1 521.1,624.1 522.6,620.5 524.3,617.2 526.0,614.1 528.1,610.9 530.5,608.0 532.8,605.7 535.5,603.7 538.4,602.1 541.9,600.5 547.0,598.6 551.8,597.2 557.8,595.9 564.2,594.9 571.1,594.3 577.5,594.0 582.5,594.2 584.7,594.4 586.7,594.7 588.5,595.2 590.1,595.7 591.6,596.3 593.0,597.0 594.7,598.2 596.2,599.6 597.6,601.4 598.9,603.3 600.0,605.6 601.0,608.2 602.0,611.1 602.9,614.7 603.8,618.7 604.5,622.9 605.3,627.9 606.0,633.9 607.4,646.9 608.6,662.9 609.6,680.1 610.5,697.7 611.2,717.0 612.0,741.0 612.7,767.4 613.3,799.9 614.9,898.6 615.5,928.0 616.1,945.3 616.3,948.8 616.5,949.7 616.7,949.8 616.9,949.7 617.0,949.5 617.2,948.5 617.6,944.1 617.9,935.8 618.3,923.5 620.9,799.9 621.5,773.0 622.3,747.2 623.0,726.1 623.8,708.5 624.7,690.3 625.7,675.3 627.0,658.2 628.4,643.7 630.0,631.0 630.9,625.6 631.7,620.9 632.7,616.5 633.6,612.8 634.7,609.3 635.7,606.4 636.8,603.8 638.2,601.3 639.6,599.1 641.1,597.2 642.9,595.4 644.8,593.9 646.9,592.6 649.3,591.5 651.9,590.5 654.9,589.7 658.2,589.1 662.0,588.6 665.6,588.2 669.7,587.9 679.7,587.6 710.4,587.6 723.4,587.7 734.9,588.0 743.7,588.5 750.6,589.2 753.5,589.7 756.0,590.3 758.4,590.9 760.5,591.7 762.3,592.6 764.0,593.6 765.6,594.7 767.0,596.0 768.3,597.5 769.5,599.2 770.5,600.8 771.4,602.6 773.0,606.6 774.4,611.2 775.8,616.8 777.0,623.5 778.1,631.3 779.2,640.2 780.1,650.1 781.0,661.0 781.7,672.5 783.1,700.2 784.3,729.3 786.2,789.4 787.0,807.7 787.4,814.2 787.8,818.5 788.1,820.8 788.3,821.3 788.6,821.5 788.9,821.3 789.1,820.8 789.5,818.4 789.8,814.0 790.2,807.5 791.0,789.1 792.9,729.0 794.1,699.9 795.5,672.3 796.3,660.8 797.1,650.0 798.0,640.0 799.1,631.2 800.2,623.4 801.4,616.7 802.8,611.1 804.2,606.5 805.8,602.5 806.7,600.7 807.7,599.1 809.5,596.8 811.6,594.7 813.9,593.0 816.6,591.7 819.7,590.6 823.3,589.7 827.5,589.0 832.5,588.4 838.2,588.0 845.1,587.6 863.7,587.2 892.6,586.9 941.7,586.8"/>
</g>
<rect x="821.2" y="892.9" width="113.4" height="72.1" fill="#fff" stroke="#666" stroke-width="1"/>
<path d="M824.3 912.2H852.8" stroke="#0a72bd" stroke-width="4"/>
<path d="M824.3 946.7H852.8" stroke="#d95319" stroke-width="4"/>
<text class="lg" x="855.4" y="923.2">aGST</text>
<text class="lg" x="855.4" y="958.0">cGST</text>
</g>
</svg>
</body></html>
